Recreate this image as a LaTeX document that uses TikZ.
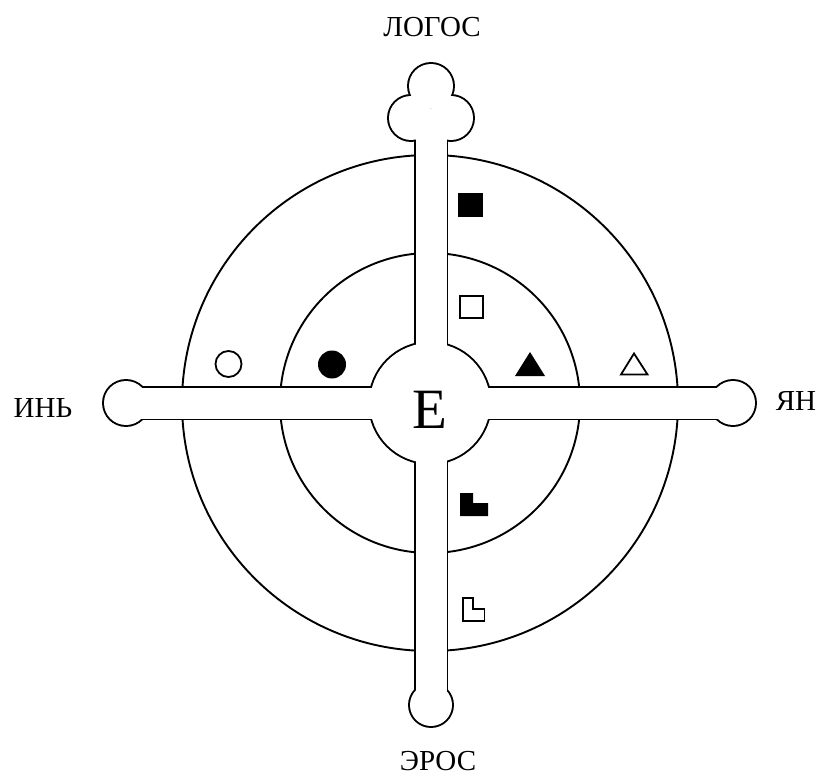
\documentclass[tikz,border=0pt]{standalone}
\usepackage{fontspec}
\setmainfont{Liberation Serif}
\begin{document}
\begin{tikzpicture}[x=1pt,y=-1pt,
  ring/.style={line width=1.9pt},
  partstroke/.style={line width=3.9pt},
  symline/.style={line width=1.8pt},
  lbl/.style={font=\fontsize{29}{30}\selectfont, anchor=base, inner sep=0pt}]
\useasboundingbox[fill=white] (0,0) rectangle (822,778);
% rings
\draw[ring] (430,403) circle[radius=248pt];
\draw[ring] (430,403) circle[radius=150pt];
% composite cross: stroke all parts then fill white (union outline)
\draw[partstroke] (415.5,118) rectangle (446.5,705);
\draw[partstroke] (126,387.5) rectangle (733,418.5);
\draw[partstroke] (430,403) circle[radius=60pt];
\draw[partstroke] (126,403) circle[radius=22pt];
\draw[partstroke] (733,403) circle[radius=22pt];
\draw[partstroke] (431,705) circle[radius=21pt];
\draw[partstroke] (431,86) circle[radius=22pt];
\draw[partstroke] (411,118) circle[radius=22pt];
\draw[partstroke] (451,118) circle[radius=22pt];
\fill[white] (415.5,118) rectangle (446.5,705);
\fill[white] (126,387.5) rectangle (733,418.5);
\fill[white] (430,403) circle[radius=60pt];
\fill[white] (126,403) circle[radius=22pt];
\fill[white] (733,403) circle[radius=22pt];
\fill[white] (431,705) circle[radius=21pt];
\fill[white] (431,86) circle[radius=22pt];
\fill[white] (411,118) circle[radius=22pt];
\fill[white] (451,118) circle[radius=22pt];
% symbols
\fill (458,193) rectangle (483,217);
\draw[symline] (460,296) rectangle (483,318);
\fill (460,493) -- (473,493) -- (473,503) -- (488,503) -- (488,516) -- (460,516) -- cycle;
\draw[symline] (463,598) -- (473,598) -- (473,609) -- (484.5,609) -- (484.5,621) -- (463,621) -- cycle;
\draw[symline] (228.5,364) circle[radius=13pt];
\fill (332,364.5) circle[radius=14pt];
\fill (515,376) -- (545,376) -- (530,352) -- cycle;
\draw[symline,line join=miter] (621,374.5) -- (647.5,374.5) -- (634,353.5) -- cycle;
% labels
\node[font=\fontsize{57}{60}\selectfont, anchor=base, inner sep=0pt] (e) at (430,428) {E};
\node[lbl] (logos) at (432,37) {ЛОГОС};
\node[lbl] (eros) at (438,770) {ЭРОС};
\node[lbl] (yin) at (43,417) {ИНЬ};
\node[lbl] (yang) at (796,410) {ЯН};
\end{tikzpicture}
\end{document}
